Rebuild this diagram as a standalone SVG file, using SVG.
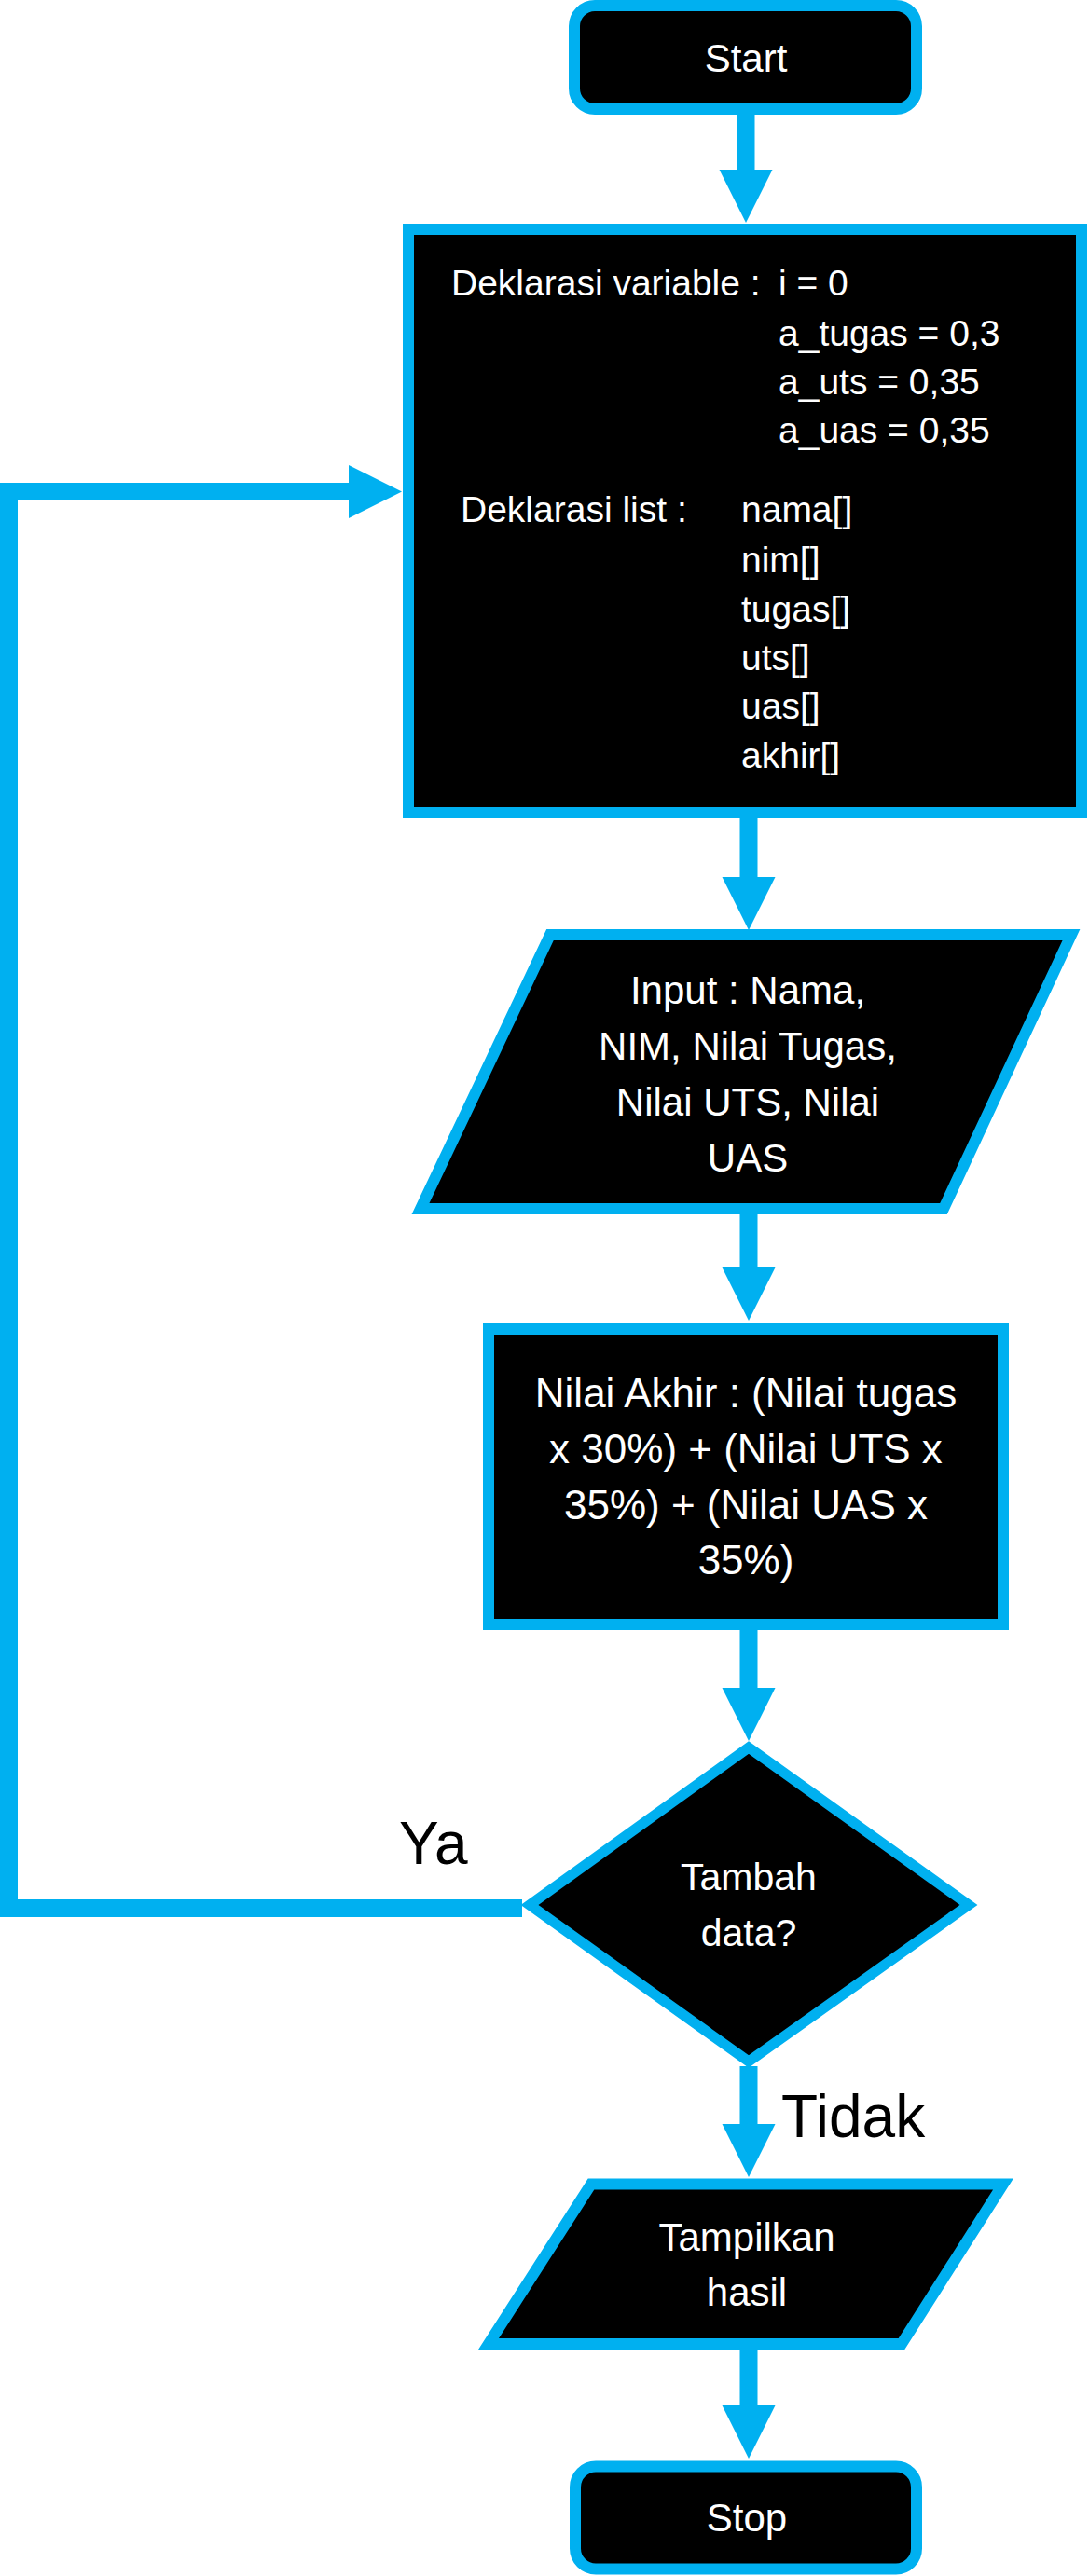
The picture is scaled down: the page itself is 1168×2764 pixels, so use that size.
<svg xmlns="http://www.w3.org/2000/svg" width="1168" height="2764" viewBox="0 0 1168 2764">
  <style>
    .node { fill: #000000; stroke: #00B0F0; stroke-width: 12; stroke-linejoin: miter; }
    .conn { fill: none; stroke: #00B0F0; stroke-width: 19; stroke-linejoin: miter; }
    .t { font-family: "Liberation Sans", Arial, sans-serif; fill: #FFFFFF; }
    .c { text-anchor: middle; font-size: 42px; }
    .decl { font-size: 39px; }
    .lbl { font-family: "Liberation Sans", Arial, sans-serif; fill: #000000; font-size: 64px; }
  </style>
  <defs>
    <marker id="ah" markerUnits="userSpaceOnUse" markerWidth="58" markerHeight="58" refX="0" refY="28.5" orient="auto" overflow="visible">
      <path d="M0,0 L57,28.5 L0,57 Z" fill="#00B0F0"/>
    </marker>
  </defs>
  <rect width="1168" height="2764" fill="#FFFFFF"/>

  <g id="connectors">
    <line class="conn" x1="800" y1="123" x2="800" y2="182" marker-end="url(#ah)"/>
    <line class="conn" x1="803" y1="878" x2="803" y2="941" marker-end="url(#ah)"/>
    <line class="conn" x1="803" y1="1303" x2="803" y2="1360" marker-end="url(#ah)"/>
    <line class="conn" x1="803" y1="1749" x2="803" y2="1811" marker-end="url(#ah)"/>
    <line class="conn" x1="803" y1="2217" x2="803" y2="2279" marker-end="url(#ah)"/>
    <line class="conn" x1="803" y1="2521" x2="803" y2="2581" marker-end="url(#ah)"/>
    <path class="conn" d="M560,2047.5 H9.5 V527.5 H374" marker-end="url(#ah)"/>
    <text class="lbl" x="428" y="2000">Ya</text>
    <text class="lbl" x="838" y="2293">Tidak</text>
  </g>

  <g id="start">
    <rect class="node" x="616" y="6" width="367" height="111" rx="22" ry="22"/>
    <text class="t c" x="800" y="77">Start</text>
  </g>

  <g id="deklarasi">
    <rect class="node" x="438" y="246" width="722" height="626"/>
    <text class="t decl" y="317"><tspan x="484">Deklarasi variable :</tspan><tspan x="835">i = 0</tspan></text>
    <text class="t decl" x="835" y="371">a_tugas = 0,3</text>
    <text class="t decl" x="835" y="423">a_uts = 0,35</text>
    <text class="t decl" x="835" y="475">a_uas = 0,35</text>
    <text class="t decl" x="494" y="560">Deklarasi list :</text>
    <text class="t decl" x="795" y="560">nama[]</text>
    <text class="t decl" x="795" y="614">nim[]</text>
    <text class="t decl" x="795" y="667">tugas[]</text>
    <text class="t decl" x="795" y="719">uts[]</text>
    <text class="t decl" x="795" y="771">uas[]</text>
    <text class="t decl" x="795" y="824">akhir[]</text>
  </g>

  <g id="input">
    <polygon class="node" points="590,1003 1149,1003 1012,1297 451,1297"/>
    <text class="t c" x="802" y="1077">Input : Nama,</text>
    <text class="t c" x="802" y="1137">NIM, Nilai Tugas,</text>
    <text class="t c" x="802" y="1197">Nilai UTS, Nilai</text>
    <text class="t c" x="802" y="1257">UAS</text>
  </g>

  <g id="proses">
    <rect class="node" x="524" y="1426" width="552" height="317"/>
    <text class="t c" x="800" y="1510" style="font-size:44px">Nilai Akhir : (Nilai tugas</text>
    <text class="t c" x="800" y="1570" style="font-size:44px">x 30%) + (Nilai UTS x</text>
    <text class="t c" x="800" y="1630" style="font-size:44px">35%) + (Nilai UAS x</text>
    <text class="t c" x="800" y="1689" style="font-size:44px">35%)</text>
  </g>

  <g id="keputusan">
    <polygon class="node" points="803,1875 1039,2044 803,2212 568,2044" style="stroke-width:11"/>
    <text class="t c" x="803" y="2028" style="font-size:41px">Tambah</text>
    <text class="t c" x="803" y="2088" style="font-size:41px">data?</text>
  </g>

  <g id="output">
    <polygon class="node" points="634,2343.5 1076,2343.5 967,2515 524,2515"/>
    <text class="t c" x="801" y="2415">Tampilkan</text>
    <text class="t c" x="801" y="2474">hasil</text>
  </g>

  <g id="stop">
    <rect class="node" x="617" y="2646.5" width="366" height="110" rx="22" ry="22"/>
    <text class="t c" x="801" y="2716">Stop</text>
  </g>
</svg>
